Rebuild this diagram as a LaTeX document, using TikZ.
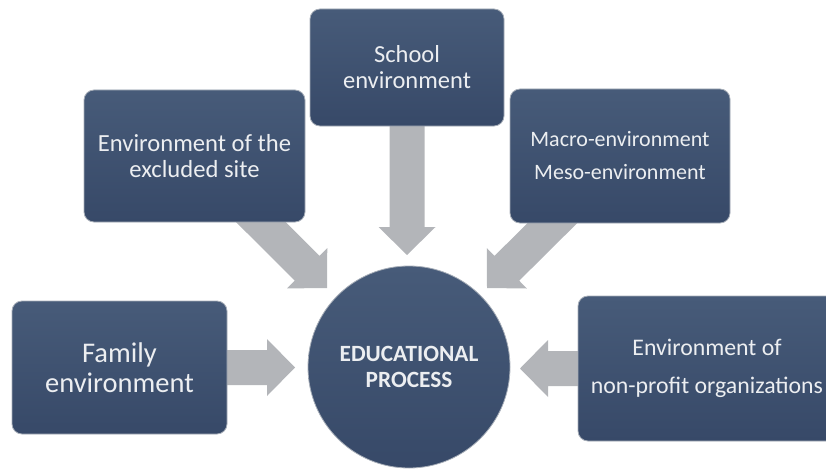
\documentclass[tikz,border=0pt]{standalone}
\usepackage{fontspec}
\setmainfont{Carlito}
\usetikzlibrary{calc,backgrounds}
\definecolor{boxtop}{HTML}{475B79}
\definecolor{boxbot}{HTML}{374968}
\definecolor{arrowgray}{HTML}{B3B5B9}
\definecolor{edgegray}{HTML}{A7AEB8}
\definecolor{txt}{HTML}{ECEEF1}
\newcommand\bkarrow[2]{%
  \coordinate (h) at ($(#2)!28pt!(#1)$);
  \fill[arrowgray] ($(h)!17.5pt!90:(#2)$) -- ($(h)!28.5pt!90:(#2)$) -- (#2)
    -- ($(h)!28.5pt!-90:(#2)$) -- ($(h)!17.5pt!-90:(#2)$)
    -- ($(#1)!17.5pt!-90:(#2)$) -- ($(#1)!17.5pt!90:(#2)$) -- cycle;}
\begin{document}
\begin{tikzpicture}[x=1pt,y=-1pt,
  envbox/.style={rectangle, rounded corners=10pt, top color=boxtop, bottom color=boxbot,
    draw=edgegray, line width=0.8pt, text=txt, align=center, inner sep=0pt},
  educirc/.style={circle, top color=boxtop, bottom color=boxbot,
    draw=edgegray, line width=0.8pt, text=txt, align=center, inner sep=0pt,
    minimum size=202pt, font=\fontsize{23.3}{26}\selectfont\bfseries}]
\useasboundingbox (0,0) rectangle (826,468);
\clip (0,0) rectangle (826,468);
\node[envbox, minimum width=221pt, minimum height=132pt,
  font=\fontsize{24.6}{26.5}\selectfont] (excl) at (194.5,156) {Environment of the\\excluded site};
\node[envbox, minimum width=194pt, minimum height=117pt,
  font=\fontsize{24.5}{26}\selectfont] (school) at (407,67.5) {School\\environment};
\node[envbox, minimum width=220pt, minimum height=134pt,
  font=\fontsize{22}{33}\selectfont] (macro) at (620,156) {Macro-environment\\Meso-environment};
\node[envbox, minimum width=215pt, minimum height=133pt,
  font=\fontsize{28.5}{30}\selectfont] (family) at (119.5,367.5) {Family\\environment};
\node[envbox, minimum width=258pt, minimum height=145pt,
  font=\fontsize{23.8}{38}\selectfont] (nonprofit) at (707,368.5) {Environment of\\non-profit organizations};
\node[educirc] (edu) at (409,367) {EDUCATIONAL\\PROCESS};
\coordinate (tfam) at (295,367.5);
\coordinate (tnon) at (520,368.5);
\coordinate (tsch) at (407,255);
\coordinate (texc) at (327,288);
\coordinate (tmac) at (487,288);
\begin{scope}[on background layer]
\bkarrow{family.center}{tfam}
\bkarrow{nonprofit.center}{tnon}
\bkarrow{school.center}{tsch}
\bkarrow{excl.center}{texc}
\bkarrow{macro.center}{tmac}
\end{scope}
\end{tikzpicture}
\end{document}
